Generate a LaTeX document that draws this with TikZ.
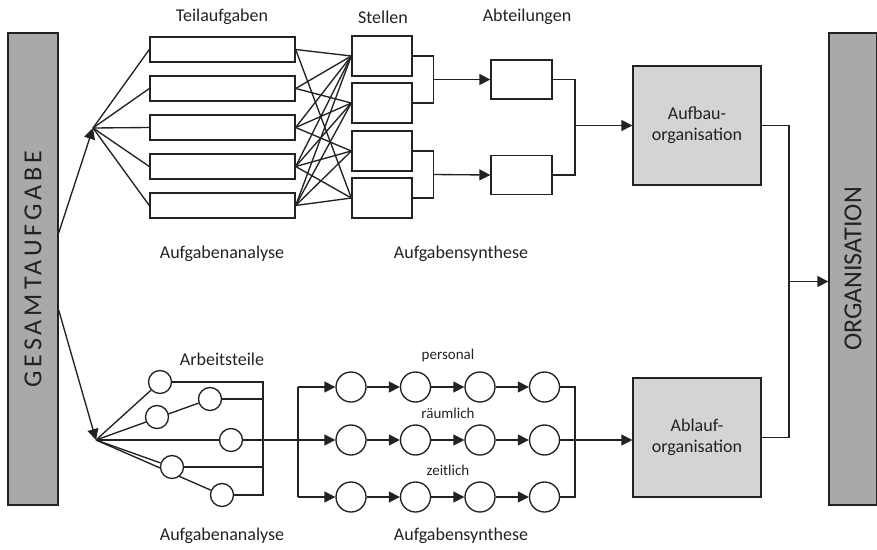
\documentclass[tikz,border=0pt]{standalone}
\usepackage{fontspec}
\setmainfont{Carlito}
\usetikzlibrary{
  arrows.meta,
  backgrounds,
  calc,
  positioning,
}
\definecolor{bargray}{HTML}{A8A9AB}
\definecolor{boxgray}{HTML}{D3D4D6}
\definecolor{linegray}{HTML}{222222}
\tikzset{
  >={Triangle[length=11pt,width=11pt]},
}

\begin{document}
\begin{tikzpicture}[
      x=1pt, y=-1pt,
      line width=1.35pt, draw=linegray,
      every node/.style={font=\fontsize{18}{21}\selectfont, text=linegray},
      bar/.style={draw=linegray, fill=bargray, minimum width=50pt, minimum height=472pt, inner sep=0pt, font=\fontsize{26}{28}\selectfont},
      task/.style={draw=linegray, fill=white, minimum width=145pt, minimum height=25pt, inner sep=0pt},
      post/.style={draw=linegray, fill=white, minimum width=60pt, minimum height=40pt, inner sep=0pt},
      dept/.style={draw=linegray, fill=white, minimum width=61pt, minimum height=39pt, inner sep=0pt},
      orgbox/.style={draw=linegray, fill=boxgray, minimum width=128pt, minimum height=119pt, align=center},
      part/.style={circle, draw=linegray, fill=white, minimum size=23pt, inner sep=0pt},
      proc/.style={circle, draw=linegray, fill=white, minimum size=30pt, inner sep=0pt},
      small/.style={font=\fontsize{15}{17}\selectfont},
      conn/.style={line width=1.35pt, draw=linegray},
    ]
  \useasboundingbox (0,0) rectangle (877,549);

  % bars
  \node [bar] (ges) at (33,269) {\rotatebox{90}{\addfontfeature{LetterSpace=15}GESAMTAUFGABE}};
  \node [bar, minimum width=48pt] (org) at (853,269) {\rotatebox{90}{ORGANISATION}};

  % Aufbau: Teilaufgaben, Stellen, Abteilungen
  \foreach \i in {1,...,5}
    \node [task] (t\i) at (222.5,{49.5+39*(\i-1)}) {};
  \node [post] (s1) at (382,56) {};
  \node [post] (s2) at (382,103) {};
  \node [post] (s3) at (382,151) {};
  \node [post] (s4) at (382,198) {};
  \node [dept] (a1) at (521.5,79.5) {};
  \node [dept] (a2) at (521.5,175) {};
  \node [orgbox] (aufbau) at (697,125.5) {Aufbau-\\organisation};

  \node (teil) at (222,17) {Teilaufgaben};
  \node (stellen) at (383,17) {Stellen};
  \node (abt) at (527,17) {Abteilungen};
  \node (anaA) at (222,254) {Aufgabenanalyse};
  \node (synA) at (461,254) {Aufgabensynthese};

  % Ablauf: Arbeitsteile und Arbeitsgaenge
  \node [part] (c1) at (160,382) {};
  \node [part] (c2) at (210,399) {};
  \node [part] (c3) at (157,417) {};
  \node [part] (c4) at (231,440) {};
  \node [part] (c5) at (172,467) {};
  \node [part] (c6) at (222,495) {};
  \foreach \r/\y in {1/387,2/440,3/497}
    \foreach \j in {1,...,4}
      \node [proc] (p\r\j) at ({351+64.5*(\j-1)},\y) {};
  \node [orgbox] (ablauf) at (697,437.5) {Ablauf-\\organisation};

  \node (teile) at (222,359) {Arbeitsteile};
  \node [small] (pers) at (448,355) {personal};
  \node [small] (raum) at (448,413) {räumlich};
  \node [small] (zeit) at (448,470) {zeitlich};
  \node (anaB) at (222,536) {Aufgabenanalyse};
  \node (synB) at (461,536) {Aufgabensynthese};

  \coordinate (hubA) at (93,128);
  \coordinate (hubB) at (96,440);
  \coordinate (jA) at (575,125.5);
  \coordinate (jB) at (298,440);
  \coordinate (jC) at (575,440);
  \coordinate (jD) at (789,281.5);

  \begin{scope}[on background layer, every path/.append style={conn}]
    % Gesamtaufgabe zerlegen
    \draw [->] (ges.east |- 0,233) -- (hubA);
    \draw [->] (ges.east |- 0,310) -- (hubB);
    \foreach \i in {1,...,5}
      \draw (hubA) -- (t\i.west);

    % Teilaufgaben zu Stellen
    \foreach \i/\k in {1/1,1/4,2/1,2/2,3/1,3/2,3/3,4/1,4/2,4/3,4/4,5/1,5/2,5/3,5/4}
      \draw (t\i.east) -- (s\k.west);

    % Stellen zu Abteilungen
    \draw (s1.east) -| ($(s1.east)+(21,0)$) |- (s2.east);
    \draw [->] ($(s1.east)!.5!(s2.east)+(21,0)$) -- (a1.west);
    \draw (s3.east) -| ($(s3.east)+(21,0)$) |- (s4.east);
    \draw [->] ($(s3.east)!.5!(s4.east)+(21,0)$) -- (a2.west);
    \draw (a1.east) -| (jA) |- (a2.east);
    \draw [->] (jA) -- (aufbau.west);

    % Arbeitsteile
    \draw (hubB) -- (c1);
    \draw (hubB) -- (c2);
    \draw (hubB) -- (c4);
    \draw (hubB) -- (c5);
    \draw (hubB) -- (c6);
    \draw (c1.east) -- (c1.east -| 263,0) -- (c6.east -| 263,0) -- (c6.east);
    \draw (c2.east) -- (c2.east -| 263,0);
    \draw (c5.east) -- (c5.east -| 263,0);
    \draw (c4.east) -- (jB);

    % Arbeitsgaenge
    \draw (p11.west -| jB) -- (p31.west -| jB);
    \foreach \r in {1,2,3} {
      \draw [->] (p\r1.west -| jB) -- (p\r1.west);
      \draw [->] (p\r1) -- (p\r2);
      \draw [->] (p\r2) -- (p\r3);
      \draw [->] (p\r3) -- (p\r4);
    }
    \draw (p14.east) -| (jC) |- (p34.east);
    \draw (p24.east) -- (jC);
    \draw [->] (jC) -- (ablauf.west |- jC);

    % Organisation
    \draw (aufbau.east) -| (jD) |- (ablauf.east);
    \draw [->] (jD) -- (org.west |- jD);
  \end{scope}
\end{tikzpicture}
\end{document}
